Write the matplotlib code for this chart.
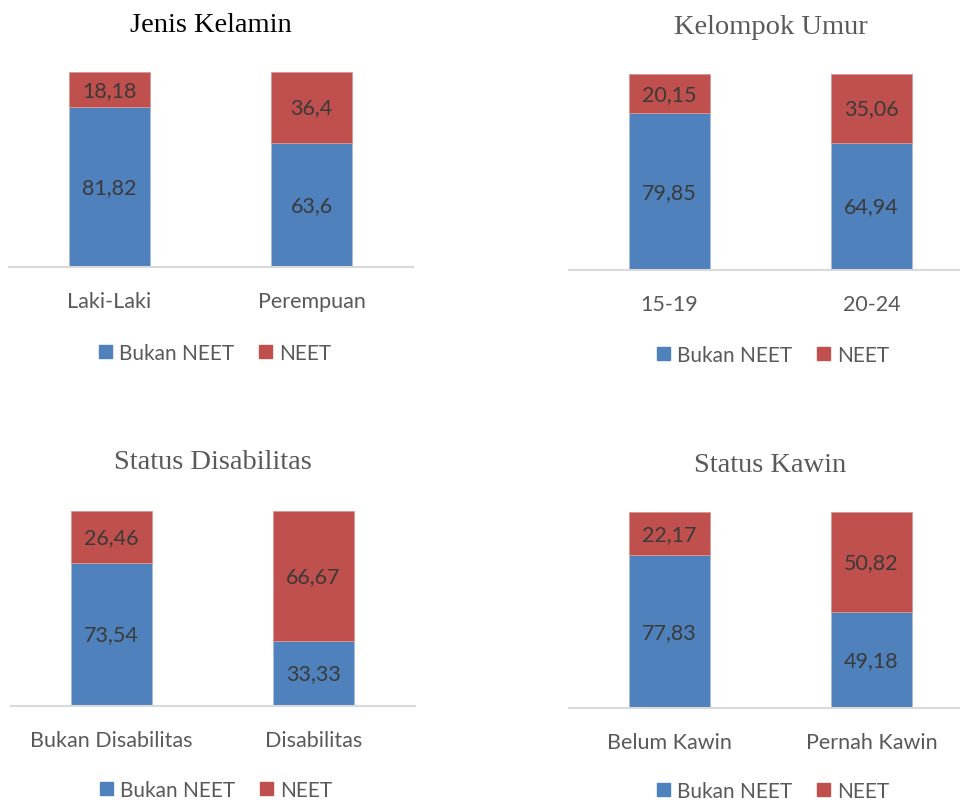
import matplotlib.pyplot as plt
from matplotlib.patches import Patch

# data
titles = ["Jenis Kelamin", "Kelompok Umur", "Status Disabilitas", "Status Kawin"]
kategori = [["Laki-Laki", "Perempuan"],
            ["15-19", "20-24"],
            ["Bukan Disabilitas", "Disabilitas"],
            ["Belum Kawin", "Pernah Kawin"]]
bukan_neet = [[81.82, 63.6], [79.85, 64.94], [73.54, 33.33], [77.83, 49.18]]
neet = [[18.18, 36.4], [20.15, 35.06], [26.46, 66.67], [22.17, 50.82]]
label_bukan = [["81,82", "63,6"], ["79,85", "64,94"], ["73,54", "33,33"], ["77,83", "49,18"]]
label_neet = [["18,18", "36,4"], ["20,15", "35,06"], ["26,46", "66,67"], ["22,17", "50,82"]]

BIRU = "#4F81BD"
MERAH = "#C0504D"
W, H = 960, 803

# posisi panel dalam piksel: (kiri, kanan, baseline, atas, y judul, y legenda, x tengah legenda)
panel = [(8.5, 412.5, 268, 73, 25, 354, 215),
         (568.5, 972.5, 271, 75, 28, 356, 773),
         (10.5, 414.5, 707, 512, 463, 791, 216),
         (568.5, 972.5, 709, 513, 466, 792, 773)]
warna_judul = ["black", "#595959", "#595959", "#595959"]

fig = plt.figure(figsize=(W / 100, H / 100), dpi=100)
sans = ["Lato", "DejaVu Sans"]
fs = 15.5

for i in range(4):
    x0, x1, yb, yt, yj, yl, xl = panel[i]
    ax = fig.add_axes([x0 / W, 1 - yb / H, (x1 - x0) / W, (yb - yt) / H])
    x = [0, 1]
    ax.bar(x, bukan_neet[i], width=0.4, color=BIRU, edgecolor="#A6BDDB", linewidth=0.6)
    ax.bar(x, neet[i], width=0.4, bottom=bukan_neet[i], color=MERAH,
           edgecolor="#D99694", linewidth=0.6)
    for j in range(2):
        ax.text(x[j], bukan_neet[i][j] / 2, label_bukan[i][j], ha="center", va="center",
                fontsize=fs, color="#3A3A3A", family=sans)
        ax.text(x[j], bukan_neet[i][j] + neet[i][j] / 2, label_neet[i][j], ha="center",
                va="center", fontsize=fs, color="#3A3A3A", family=sans)
    ax.set_xlim(-0.5, 1.5)
    ax.set_ylim(0, 100)
    ax.set_yticks([])
    ax.set_xticks(x)
    ax.set_xticklabels(kategori[i], fontsize=fs, color="#595959", family=sans)
    ax.tick_params(axis="x", length=0, pad=17)
    for s in ["top", "left", "right"]:
        ax.spines[s].set_visible(False)
    ax.spines["bottom"].set_color("#D9D9D9")
    ax.spines["bottom"].set_linewidth(1.5)
    ax.patch.set_alpha(0)

    fig.text((x0 + 202) / W, 1 - yj / H, titles[i], ha="center", va="center",
             fontsize=20.5, color=warna_judul[i], family=["Liberation Serif"])

    handles = [Patch(color=BIRU, label="Bukan NEET"), Patch(color=MERAH, label="NEET")]
    fig.legend(handles=handles, loc="center", bbox_to_anchor=(xl / W, 1 - yl / H), ncol=2,
               frameon=False, handlelength=0.6, handleheight=0.6, handletextpad=0.35,
               columnspacing=1.2, prop={"family": sans, "size": 15}, labelcolor="#595959")

fig.savefig("out.png", dpi=100)
